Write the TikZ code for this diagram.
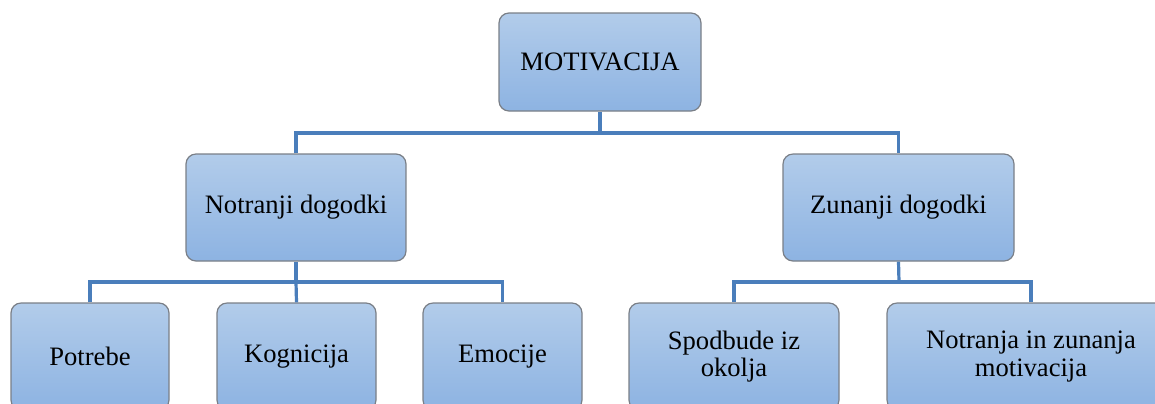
\documentclass[tikz,border=0pt]{standalone}
\usepackage{fontspec}
\newfontfamily\boxfont{LiberationSerif-Regular.ttf}
\usepackage{tikz}
\usetikzlibrary{calc}
\definecolor{boxtop}{HTML}{B2CCEA}
\definecolor{boxbottom}{HTML}{8DB3E2}
\definecolor{boxline}{HTML}{7A7F87}
\definecolor{linkblue}{HTML}{4A7EBB}

\begin{document}
\begin{tikzpicture}[x=0.5pt, y=-0.5pt,
	box/.style={draw=boxline, line width=0.6pt, rounded corners=5pt, top color=boxtop, bottom color=boxbottom,
		inner sep=0pt, align=center, minimum height=53.5pt, font=\boxfont\fontsize{13.3}{13.6}\selectfont},
	link/.style={draw=linkblue, line width=1.6pt} ]
		
		\clip (0,0) rectangle (1155,403);
		\node[box, minimum width=101pt, minimum height=49pt] (motiv) at (600,62) {MOTIVACIJA};
		\node[box, minimum width=110pt] (notr) at (296,207.5) {Notranji dogodki};
		\node[box, minimum width=115.5pt] (zun) at (898.5,207.5) {Zunanji dogodki};
		\node[box, minimum width=79pt] (potr) at (90,356.5) {Potrebe};
		\node[box, minimum width=79.5pt] (kogn) at (296.5,356.5) {Kognicija};
		\node[box, minimum width=79.5pt] (emoc) at (502.5,356.5) {Emocije};
		\node[box, minimum width=105pt] (spod) at (734,356.5) {Spodbude iz\\okolja};
		\node[box, minimum width=144pt] (nzmot) at (1031,356.5) {Notranja in zunanja\\motivacija};
		
		\coordinate (jtop) at (600,133);
		\coordinate (jleft) at (296,282);
		\coordinate (jright) at (899,282);
		\draw[link] (motiv.south) -- (jtop);
		\draw[link] (notr.north) |- (jtop) -| (zun.north);
		\draw[link] (notr.south) -- (jleft);
		\draw[link] (potr.north) |- (jleft) -| (emoc.north);
		\draw[link] (jleft) -- (kogn.north);
		\draw[link] (zun.south) -- (jright);
		\draw[link] (spod.north) |- (jright) -| (nzmot.north);
	\end{tikzpicture}
\end{document}
